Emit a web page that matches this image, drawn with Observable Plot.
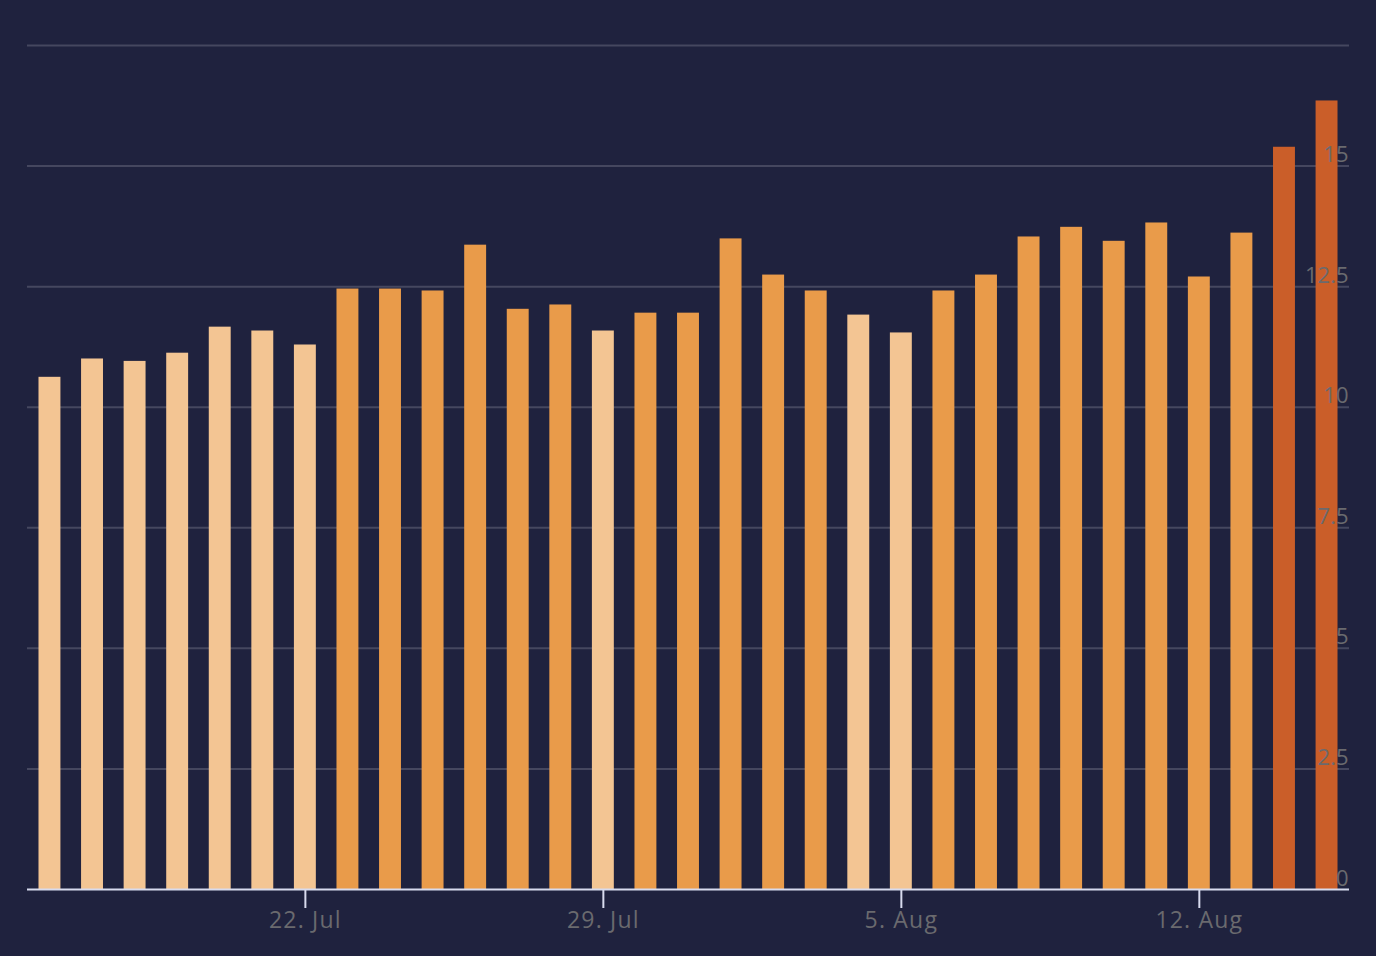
<!DOCTYPE html>
<html>
<head>
<meta charset="utf-8">
<script src="https://cdn.jsdelivr.net/npm/d3@7"></script>
<script src="https://cdn.jsdelivr.net/npm/@observablehq/plot@0.6"></script>
<style>
  html, body { margin: 0; padding: 0; background: #1f223e; }
  #chart { width: 1376px; height: 956px; }
  #chart g[aria-label="x-axis tick label"] text { letter-spacing: 1.2px; }
</style>
</head>
<body>
<div id="chart"></div>
<script>
const dates = [
  "07-16","07-17","07-18","07-19","07-20","07-21","07-22","07-23","07-24","07-25",
  "07-26","07-27","07-28","07-29","07-30","07-31","08-01","08-02","08-03","08-04",
  "08-05","08-06","08-07","08-08","08-09","08-10","08-11","08-12","08-13","08-14","08-15"
];
const values = [
  10.62, 11.00, 10.95, 11.12, 11.66, 11.58, 11.29, 12.45, 12.45, 12.41,
  13.36, 12.03, 12.12, 11.58, 11.95, 11.95, 13.49, 12.74, 12.41, 11.91,
  11.54, 12.41, 12.74, 13.53, 13.73, 13.44, 13.82, 12.70, 13.61, 15.39, 16.35
];
const levels = [
  "low","low","low","low","low","low","low","mid","mid","mid",
  "mid","mid","mid","low","mid","mid","mid","mid","mid","low",
  "low","mid","mid","mid","mid","mid","mid","mid","mid","high","high"
];
const levelNames = ["low", "mid", "high"];
const levelColors = ["#f3c593", "#e99b4a", "#ca5e29"];
const xTicks = ["07-22", "07-29", "08-05", "08-12"];
const xTickLabels = ["22. Jul", "29. Jul", "5. Aug", "12. Aug"];
const yTicks = [0, 2.5, 5, 7.5, 10, 12.5, 15, 17.5];
const yTickLabels = ["0", "2.5", "5", "7.5", "10", "12.5", "15", ""];

const data = dates.map((d, i) => ({date: d, value: values[i], level: levels[i]}));

const chart = Plot.plot({
  width: 1376,
  height: 956,
  marginLeft: 27,
  marginRight: 27,
  marginTop: 45,
  marginBottom: 67,
  style: {background: "#1f223e", fontFamily: "'Open Sans', Lato, sans-serif"},
  x: {type: "band", domain: dates, paddingInner: 0.485, paddingOuter: 0.27, round: false},
  y: {domain: [0, 17.5]},
  color: {domain: levelNames, range: levelColors},
  marks: [
    Plot.gridY(yTicks.slice(1), {stroke: "#45475f", strokeOpacity: 1, strokeWidth: 2}),
    Plot.barY(data, {x: "date", y: "value", fill: "level"}),
    Plot.ruleY([0], {stroke: "#d8dbee", strokeWidth: 2}),
    Plot.axisX(xTicks, {
      tickSize: 19, stroke: "#d8dbee", strokeWidth: 2, tickPadding: 3,
      tickFormat: d => xTickLabels[xTicks.indexOf(d)],
      fill: "#6a6a6e", fontSize: 23, label: null
    }),
    Plot.axisY(yTicks, {
      anchor: "right", tickSize: 0, tickPadding: 0, textAnchor: "end", dx: -1, dy: -11,
      tickFormat: d => yTickLabels[yTicks.indexOf(d)],
      fill: "#6a6a6e", fontSize: 22, label: null
    })
  ]
});
document.getElementById("chart").appendChild(chart);
</script>
</body>
</html>
